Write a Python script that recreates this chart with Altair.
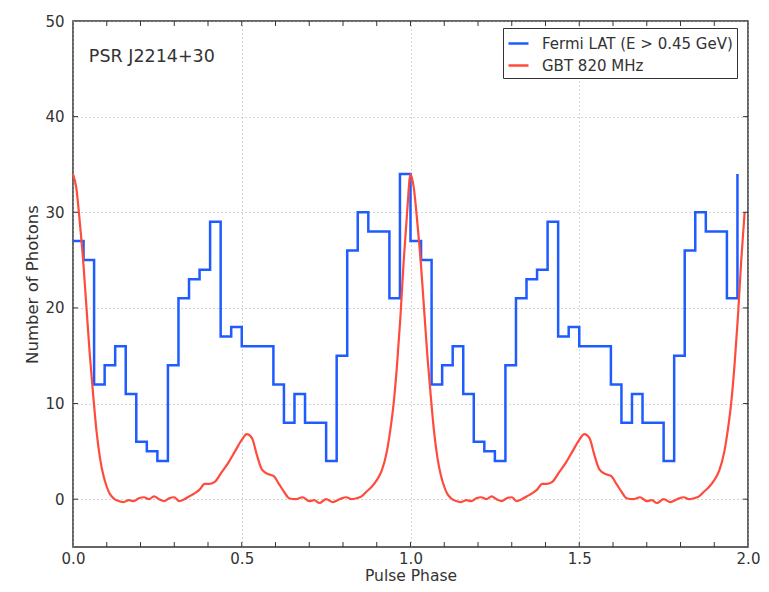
import altair as alt
import pandas as pd

# ---- data ----
series_names = ["Fermi LAT (E > 0.45 GeV)", "GBT 820 MHz"]
series_colors = ["#1f5cff", "#ff4b3c"]

# Fermi LAT photon counts, 32 phase bins per rotation (repeated for 2 cycles)
n_bins = 32
fermi_counts = [27, 25, 12, 14, 16, 11, 6, 5, 4, 14, 21, 23, 24, 29, 17, 18,
                16, 16, 16, 12, 8, 11, 8, 8, 4, 15, 26, 30, 28, 28, 21, 34]

# GBT 820 MHz radio profile (one rotation, repeated for 2 cycles)
radio_phase = [0.000, 0.010, 0.020, 0.030, 0.040, 0.050, 0.060, 0.070, 0.080,
               0.090, 0.100, 0.110, 0.120, 0.135, 0.150, 0.165, 0.180, 0.195,
               0.210, 0.225, 0.240, 0.255, 0.270, 0.285, 0.300, 0.315, 0.330,
               0.345, 0.360, 0.375, 0.390, 0.405, 0.420, 0.440, 0.460, 0.480,
               0.500, 0.515, 0.530, 0.545, 0.560, 0.580, 0.595, 0.610, 0.625,
               0.640, 0.660, 0.680, 0.700, 0.715, 0.730, 0.750, 0.770, 0.790,
               0.810, 0.825, 0.840, 0.855, 0.870, 0.885, 0.900, 0.915, 0.930,
               0.940, 0.950, 0.960, 0.970, 0.980, 0.990]
radio_flux = [34.0, 32.5, 29.0, 25.0, 20.0, 15.0, 10.8, 7.0, 4.3,
              2.5, 1.3, 0.5, 0.1, -0.2, -0.3, -0.1, -0.2, 0.1,
              0.2, 0.0, 0.3, 0.0, -0.2, 0.1, 0.2, -0.2, 0.0,
              0.3, 0.6, 1.0, 1.6, 1.6, 1.8, 2.8, 3.8, 5.0,
              6.2, 6.8, 6.4, 4.6, 3.1, 2.6, 2.4, 1.6, 0.8,
              0.1, 0.0, 0.2, -0.2, -0.1, -0.4, 0.0, -0.3, 0.0,
              0.2, 0.0, 0.1, 0.3, 0.8, 1.3, 2.0, 3.0, 5.0,
              7.2, 10.0, 14.0, 19.0, 25.0, 30.0]

x_ticks = [0.0, 0.5, 1.0, 1.5, 2.0]
x_minor_ticks = [0.1, 0.2, 0.3, 0.4, 0.5, 0.6, 0.7, 0.8, 0.9, 1.0,
                 1.1, 1.2, 1.3, 1.4, 1.5, 1.6, 1.7, 1.8, 1.9]
y_ticks = [0, 10, 20, 30, 40, 50]
y_inner_ticks = [0, 10, 20, 30, 40]
annotation = ["PSR J2214+30"]

# ---- tables ----
fermi_df = pd.DataFrame({
    "phase": [i / n_bins for i in range(2 * n_bins)],
    "value": fermi_counts * 2,
    "series": series_names[0],
})
radio_df = pd.DataFrame({
    "phase": radio_phase + [p + 1 for p in radio_phase],
    "value": radio_flux * 2,
    "series": series_names[1],
})
ann_df = pd.DataFrame({"phase": [0.047], "value": [46.2], "text": annotation})
xt_df = pd.DataFrame({"phase": x_minor_ticks})
yt_df = pd.DataFrame({"value": y_inner_ticks})

FONT = "DejaVu Sans"
W, H = 675, 526
TICK = 5
TICK_COLOR = "#333"

x_scale = alt.Scale(domain=[0, 2], nice=False, zero=False)
y_scale = alt.Scale(domain=[-5, 50], nice=False, zero=False)
color_scale = alt.Scale(domain=series_names, range=series_colors)

x_enc = alt.X("phase:Q", scale=x_scale,
              axis=alt.Axis(title="Pulse Phase", values=x_ticks, format=".1f",
                            labelPadding=4, titlePadding=2, labelFlush=False,
                            titleFontSize=15.5))
y_enc = alt.Y("value:Q", scale=y_scale,
              axis=alt.Axis(title="Number of Photons", values=y_ticks,
                            labelPadding=9, titlePadding=4, labelFlush=False,
                            titleFontSize=16.5))
color_enc = alt.Color("series:N", scale=color_scale,
                      legend=alt.Legend(title=None, orient="none",
                                        legendX=430, legendY=7))

fermi = alt.Chart(fermi_df).mark_line(
    interpolate="step-after", strokeWidth=2.5
).encode(x=x_enc, y=y_enc, color=color_enc)

radio = alt.Chart(radio_df).mark_line(
    interpolate="monotone", strokeWidth=2.2
).encode(x=x_enc, y=y_enc, color=color_enc)

label = alt.Chart(ann_df).mark_text(
    align="left", baseline="middle", font=FONT, fontSize=17.5, color="#333"
).encode(x=alt.X("phase:Q", scale=x_scale), y=alt.Y("value:Q", scale=y_scale),
         text="text:N")

# inward tick marks on all four sides (matplotlib style)
xt_bottom = alt.Chart(xt_df).mark_rule(color=TICK_COLOR, strokeWidth=1).encode(
    x=alt.X("phase:Q", scale=x_scale), y=alt.value(H), y2=alt.value(H - TICK))
xt_top = alt.Chart(xt_df).mark_rule(color=TICK_COLOR, strokeWidth=1).encode(
    x=alt.X("phase:Q", scale=x_scale), y=alt.value(0), y2=alt.value(TICK))
yt_left = alt.Chart(yt_df).mark_rule(color=TICK_COLOR, strokeWidth=1).encode(
    y=alt.Y("value:Q", scale=y_scale), x=alt.value(0), x2=alt.value(TICK))
yt_right = alt.Chart(yt_df).mark_rule(color=TICK_COLOR, strokeWidth=1).encode(
    y=alt.Y("value:Q", scale=y_scale), x=alt.value(W), x2=alt.value(W - TICK))

chart = alt.layer(fermi, radio, label, xt_bottom, xt_top, yt_left, yt_right).properties(
    width=W, height=H,
    autosize=alt.AutoSizeParams(type="none"),
    padding={"left": 65, "top": 13, "right": 13, "bottom": 37},
).configure_view(
    stroke="#333", strokeWidth=1.5
).configure_axis(
    grid=True, gridColor="#aaaaaa", gridDash=[1, 3], gridWidth=1,
    domain=False, ticks=False,
    labelFont=FONT, labelFontSize=15, labelColor="#333",
    titleFont=FONT, titleColor="#333", titleFontWeight="normal",
).configure_legend(
    strokeColor="#333", fillColor="white", padding=4, cornerRadius=0,
    labelFont=FONT, labelFontSize=15, labelColor="#333", labelLimit=400,
    symbolType="stroke", symbolStrokeWidth=2.5, symbolSize=400,
    rowPadding=2, labelOffset=12,
)

chart.save("out.html", embed_options={"renderer": "svg", "actions": False})
